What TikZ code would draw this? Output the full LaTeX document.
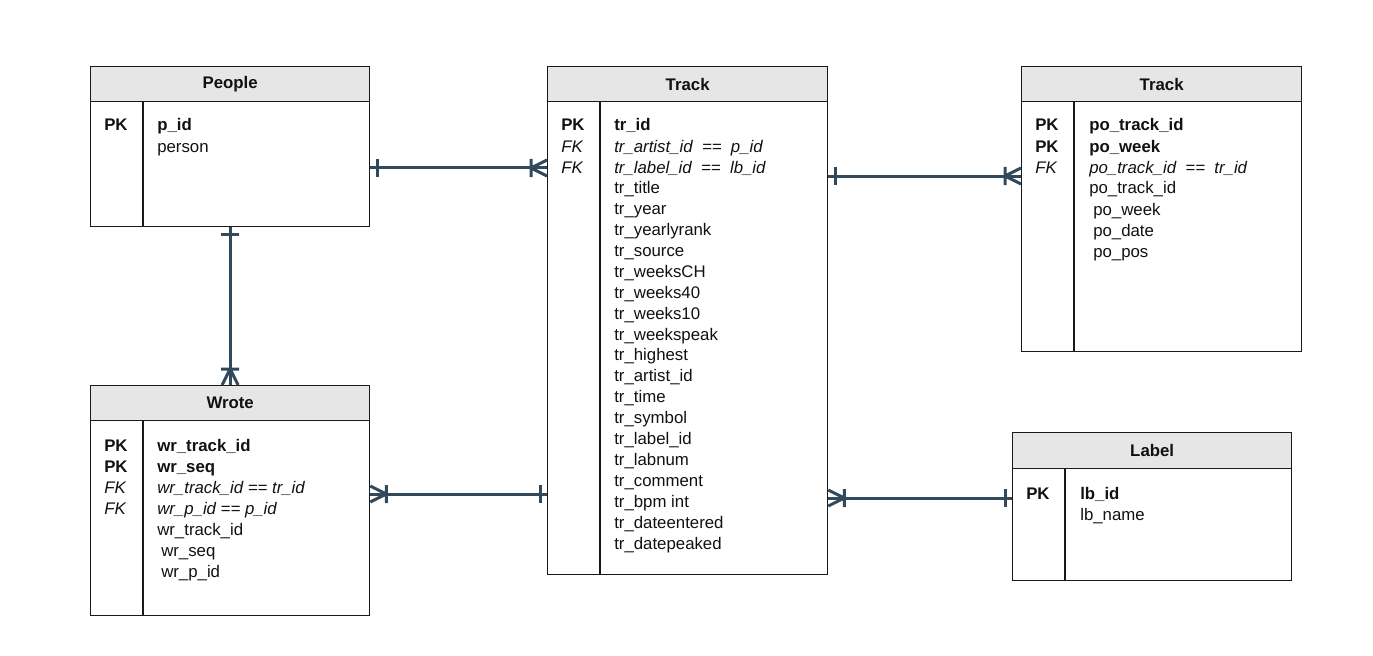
\documentclass[tikz,border=0pt]{standalone}
\usepackage{fontspec}
\setmainfont{Liberation Sans}
\definecolor{conncol}{HTML}{31495A}
\definecolor{hdrfill}{HTML}{E6E6E6}
\definecolor{txtcol}{HTML}{111111}
\newcommand\basefont{\fontsize{12.6}{15}\selectfont}
\pgfdeclarearrow{
  name = Crow,
  setup code = {
    \pgfarrowssettipend{0pt}
    \pgfarrowssetlineend{0pt}
    \pgfarrowssetbackend{-13pt}
    \pgfarrowshullpoint{0pt}{7pt}
    \pgfarrowshullpoint{0pt}{-7pt}
    \pgfarrowshullpoint{-13pt}{7pt}
    \pgfarrowshullpoint{-13pt}{-7pt}
  },
  drawing code = {
    \pgfsetdash{}{0pt}
    \pgfsetroundjoin
    \pgfpathmoveto{\pgfqpoint{0pt}{6pt}}
    \pgfpathlineto{\pgfqpoint{-12pt}{0pt}}
    \pgfpathlineto{\pgfqpoint{0pt}{-6pt}}
    \pgfpathmoveto{\pgfqpoint{-12pt}{6.75pt}}
    \pgfpathlineto{\pgfqpoint{-12pt}{-6.75pt}}
    \pgfusepathqstroke
  }
}
\pgfdeclarearrow{
  name = OneBar,
  setup code = {
    \pgfarrowssettipend{0pt}
    \pgfarrowssetlineend{0pt}
    \pgfarrowssetbackend{-6pt}
    \pgfarrowshullpoint{-5.25pt}{7pt}
    \pgfarrowshullpoint{-5.25pt}{-7pt}
  },
  drawing code = {
    \pgfsetdash{}{0pt}
    \pgfpathmoveto{\pgfqpoint{-5.25pt}{6.75pt}}
    \pgfpathlineto{\pgfqpoint{-5.25pt}{-6.75pt}}
    \pgfusepathqstroke
  }
}
\begin{document}
\begin{tikzpicture}[x=0.75pt,y=-0.75pt,
  tbl/.style={draw=black!90, line width=1pt, inner sep=0pt, anchor=north west},
  hdr/.style={draw=black!90, line width=1pt, fill=hdrfill, inner sep=0pt, anchor=north west, text=txtcol, font=\basefont\bfseries},
  fld/.style={anchor=base west, inner sep=0pt, text=txtcol, font=\basefont},
  keyf/.style={fld, font=\basefont\bfseries},
  fkf/.style={fld, font=\basefont\itshape},
  divline/.style={draw=black!90, line width=1pt},
  conn/.style={draw=conncol, line width=2.25pt}]
\useasboundingbox (0,0) rectangle (1373,656);

% ---------- People ----------
\node[hdr, minimum width=209.25pt, minimum height=26.25pt] (peopleh) at (90,66) {People};
\node[tbl, minimum width=209.25pt, minimum height=120pt] (people) at (90,66) {};
\draw[divline] (143,101) -- (143,226);
\node[keyf] (ppk) at (104,131) {PK};
\node[keyf] (pid) at (157,131) {p\_id};
\node[fld] (pperson) at (157,152) {person};

% ---------- Track (centre) ----------
\node[hdr, minimum width=210pt, minimum height=26.25pt] (trkh) at (547,66) {Track};
\node[tbl, minimum width=210pt, minimum height=381pt] (trk) at (547,66) {};
\draw[divline] (600,101) -- (600,574);
\node[keyf] (tpk) at (561,131) {PK};
\node[fkf] (tfk1) at (561,152) {FK};
\node[fkf] (tfk2) at (561,173) {FK};
\node[keyf] (tid) at (614,131) {tr\_id};
\node[fkf] (tart) at (614,152) {tr\_artist\_id~~==~~p\_id};
\node[fkf] (tlab) at (614,173) {tr\_label\_id~~==~~lb\_id};
\foreach \t [count=\i from 0] in {tr\_title, tr\_year, tr\_yearlyrank, tr\_source, tr\_weeksCH, tr\_weeks40, tr\_weeks10, tr\_weekspeak, tr\_highest, tr\_artist\_id, tr\_time, tr\_symbol, tr\_label\_id, tr\_labnum, tr\_comment, tr\_bpm int, tr\_dateentered, tr\_datepeaked}
  \node[fld] (tf\i) at (614,{193.7+20.9*\i}) {\t};

% ---------- Track (right) ----------
\node[hdr, minimum width=210pt, minimum height=26.25pt] (trrh) at (1021,66) {Track};
\node[tbl, minimum width=210pt, minimum height=213.75pt] (trr) at (1021,66) {};
\draw[divline] (1074,101) -- (1074,351);
\node[keyf] (rpk1) at (1035,131) {PK};
\node[keyf] (rpk2) at (1035,152) {PK};
\node[fkf] (rfk) at (1035,173) {FK};
\node[keyf] (rf1) at (1089,131) {po\_track\_id};
\node[keyf] (rf2) at (1089,152) {po\_week};
\node[fkf] (rf3) at (1089,173) {po\_track\_id~~==~~tr\_id};
\node[fld] (rf4) at (1089,194) {po\_track\_id};
\node[fld] (rf5) at (1093,215) {po\_week};
\node[fld] (rf6) at (1093,236) {po\_date};
\node[fld] (rf7) at (1093,257) {po\_pos};

% ---------- Wrote ----------
\node[hdr, minimum width=209.25pt, minimum height=26.25pt] (wroteh) at (90,385) {Wrote};
\node[tbl, minimum width=209.25pt, minimum height=172.5pt] (wrote) at (90,385) {};
\draw[divline] (143,420) -- (143,615);
\node[keyf] (wpk1) at (104,451) {PK};
\node[keyf] (wpk2) at (104,472) {PK};
\node[fkf] (wfk1) at (104,493) {FK};
\node[fkf] (wfk2) at (104,514) {FK};
\node[keyf] (wf1) at (157,451) {wr\_track\_id};
\node[keyf] (wf2) at (157,472) {wr\_seq};
\node[fkf] (wf3) at (157,493) {wr\_track\_id == tr\_id};
\node[fkf] (wf4) at (157,514) {wr\_p\_id == p\_id};
\node[fld] (wf5) at (157,535) {wr\_track\_id};
\node[fld] (wf6) at (161,556) {wr\_seq};
\node[fld] (wf7) at (161,577) {wr\_p\_id};

% ---------- Label ----------
\node[hdr, minimum width=209.25pt, minimum height=27pt] (labh) at (1012,432) {Label};
\node[tbl, minimum width=209.25pt, minimum height=111pt] (lab) at (1012,432) {};
\draw[divline] (1065,468) -- (1065,580);
\node[keyf] (lpk) at (1026,499) {PK};
\node[keyf] (lf1) at (1080,499) {lb\_id};
\node[fld] (lf2) at (1080,520) {lb\_name};

% ---------- connectors ----------
\draw[conn, OneBar-Crow] (people.east |- 0,168) -- (trk.west |- 0,168);
\draw[conn, OneBar-Crow] (people.south) -- (wrote.north);
\draw[conn, Crow-OneBar] (wrote.east |- 0,494) -- (trk.west |- 0,494);
\draw[conn, OneBar-Crow] (trk.east |- 0,176) -- (trr.west |- 0,176);
\draw[conn, Crow-OneBar] (trk.east |- 0,498) -- (lab.west |- 0,498);
\end{tikzpicture}
\end{document}
